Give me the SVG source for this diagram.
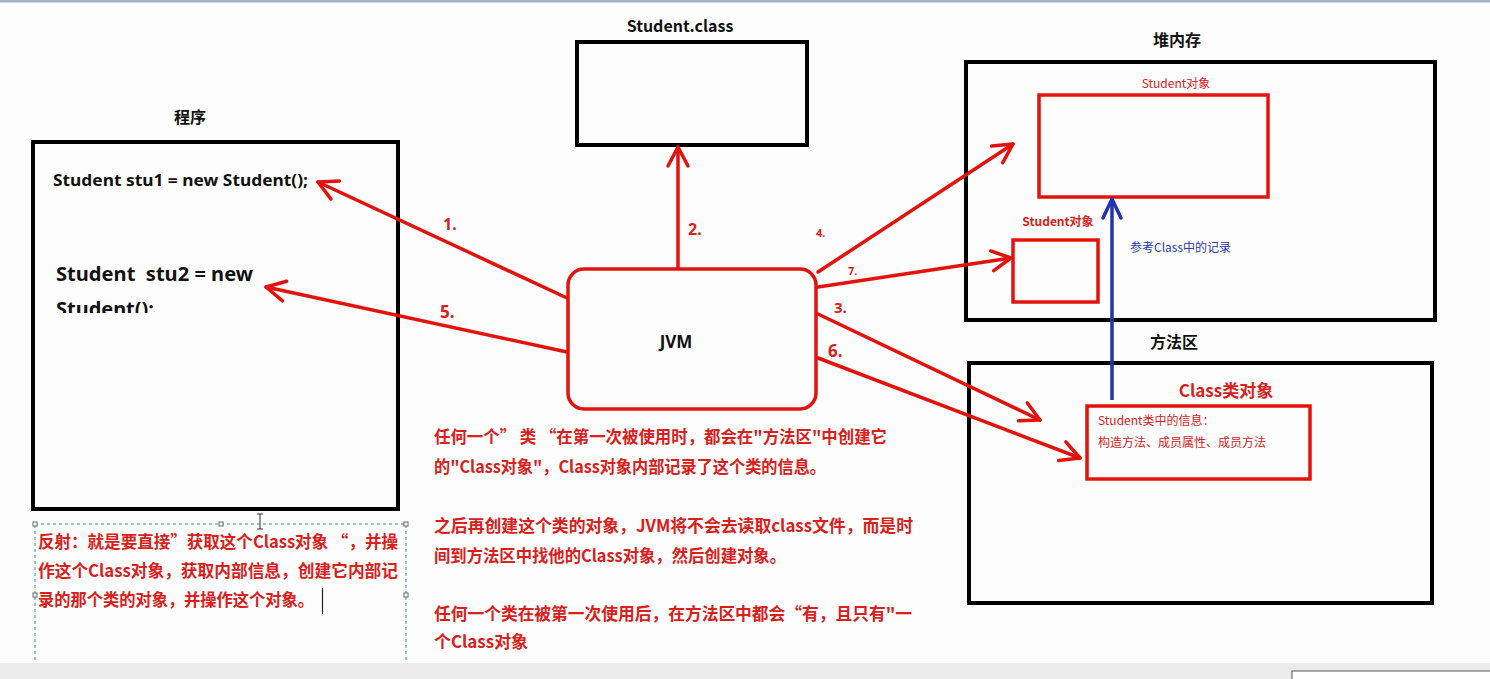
<svg xmlns="http://www.w3.org/2000/svg" width="1490" height="679" viewBox="0 0 1490 679">
<style>
.bk{fill:none;stroke:#000;stroke-width:4}
.rb{fill:none;stroke:#e3130b;stroke-width:3.5}
.ln{fill:none;stroke:#e3130b;stroke-width:3.5;stroke-linecap:round}
.title{font-family:"Noto Sans CJK SC","Noto Sans",sans-serif;font-weight:bold;font-size:16px;fill:#111;text-anchor:middle}
.code{font-family:"Noto Sans","Noto Sans CJK SC",sans-serif;font-weight:bold;fill:#111}
.rt{font-family:"Noto Sans CJK SC",sans-serif;font-weight:bold;font-size:17px;fill:#d9201a}
.num{font-family:"Noto Sans","Noto Sans CJK SC",sans-serif;font-weight:bold;fill:#d9201a}
.sm{font-family:"Noto Sans CJK SC",sans-serif;font-size:12px;fill:#d9201a}
</style>
<defs>
<marker id="ah" markerUnits="userSpaceOnUse" markerWidth="30" markerHeight="30" refX="22" refY="12" orient="auto" viewBox="0 0 30 24">
<path d="M3,2 L22,12 L3,22" fill="none" stroke="#e3130b" stroke-width="3.5" stroke-linecap="round" stroke-linejoin="round"/>
</marker>
<marker id="ahb" markerUnits="userSpaceOnUse" markerWidth="30" markerHeight="30" refX="22" refY="12" orient="auto" viewBox="0 0 30 24">
<path d="M3,3 L22,12 L3,21" fill="none" stroke="#2233b0" stroke-width="3.5" stroke-linecap="round" stroke-linejoin="round"/>
</marker>
<clipPath id="clipS"><rect x="40" y="290" width="300" height="23"/></clipPath>
</defs>
<rect x="0" y="0" width="1490" height="679" fill="#fdfdfd"/>
<rect x="0" y="0" width="1490" height="2.5" fill="#a3afc4"/>

<g id="program">
<text class="title" x="190" y="123">程序</text>
<rect class="bk" x="33" y="142" width="365" height="367"/>
<text class="code" x="53" y="186" font-size="16" textLength="255" lengthAdjust="spacingAndGlyphs">Student stu1 = new Student();</text>
<text class="code" x="56" y="281" font-size="19" textLength="197" lengthAdjust="spacingAndGlyphs" xml:space="preserve">Student  stu2 = new</text>
<text class="code" x="56" y="316" font-size="19" clip-path="url(#clipS)" textLength="98" lengthAdjust="spacingAndGlyphs">Student();</text>
</g>

<g id="studentclass">
<text class="title" x="680" y="32">Student.class</text>
<rect class="bk" x="577" y="42" width="230" height="103"/>
</g>

<g id="heap">
<text class="title" x="1177" y="46">堆内存</text>
<rect class="bk" x="966" y="62" width="469" height="258"/>
<text class="sm" x="1176" y="88" text-anchor="middle">Student对象</text>
<rect class="rb" x="1039" y="95" width="229" height="102"/>
<text class="sm" x="1058" y="226" text-anchor="middle" font-weight="bold">Student对象</text>
<rect class="rb" x="1013" y="240" width="85" height="62"/>
<text x="1130" y="252" font-family="Noto Sans CJK SC,sans-serif" font-size="12" fill="#2a3aa8">参考Class中的记录</text>
</g>

<g id="methodarea">
<text class="title" x="1174" y="348">方法区</text>
<rect class="bk" x="969" y="363" width="463" height="240"/>
<text x="1226" y="397" text-anchor="middle" font-family="Noto Sans CJK SC,sans-serif" font-weight="bold" font-size="17" fill="#d9201a">Class类对象</text>
<rect class="rb" x="1087" y="406" width="223" height="73"/>
<text class="sm" x="1098" y="425">Student类中的信息：</text>
<text class="sm" x="1098" y="447">构造方法、成员属性、成员方法</text>
</g>

<g id="jvm">
<rect class="rb" x="568" y="269" width="248" height="140" rx="16" ry="16" fill="#fff"/>
<text x="676" y="348" text-anchor="middle" font-family="Noto Sans,sans-serif" font-weight="bold" font-size="17" fill="#111">JVM</text>
</g>

<g id="connectors">
<line class="ln" x1="567" y1="298" x2="318" y2="182" marker-end="url(#ah)"/>
<line class="ln" x1="567" y1="352" x2="266" y2="287" marker-end="url(#ah)"/>
<line class="ln" x1="678" y1="268" x2="678" y2="147" marker-end="url(#ah)"/>
<line class="ln" x1="818" y1="272" x2="1013" y2="144" marker-end="url(#ah)"/>
<line class="ln" x1="818" y1="287" x2="1011" y2="258" marker-end="url(#ah)"/>
<line class="ln" x1="818" y1="314" x2="1040" y2="420" marker-end="url(#ah)"/>
<line class="ln" x1="818" y1="358" x2="1080" y2="458" marker-end="url(#ah)"/>
<line x1="1112" y1="400" x2="1112" y2="199" stroke="#2233b0" stroke-width="3.5" marker-end="url(#ahb)"/>
<text class="num" x="443" y="230" font-size="16">1.</text>
<text class="num" x="688" y="235" font-size="16">2.</text>
<text class="num" x="834" y="313" font-size="15">3.</text>
<text class="num" x="816" y="237" font-size="11">4.</text>
<text class="num" x="440" y="318" font-size="17">5.</text>
<text class="num" x="828" y="357" font-size="17">6.</text>
<text class="num" x="848" y="275" font-size="11">7.</text>
</g>

<g id="notes">
<text class="rt" x="434" y="443" textLength="453" lengthAdjust="spacingAndGlyphs">任何一个” 类 “在第一次被使用时，都会在"方法区"中创建它</text>
<text class="rt" x="434" y="473" textLength="392" lengthAdjust="spacingAndGlyphs">的"Class对象"，Class对象内部记录了这个类的信息。</text>
<text class="rt" x="434" y="532" textLength="479" lengthAdjust="spacingAndGlyphs">之后再创建这个类的对象，JVM将不会去读取class文件，而是时</text>
<text class="rt" x="434" y="562" textLength="352" lengthAdjust="spacingAndGlyphs">间到方法区中找他的Class对象，然后创建对象。</text>
<text class="rt" x="434" y="620" textLength="478" lengthAdjust="spacingAndGlyphs">任何一个类在被第一次使用后，在方法区中都会“有，且只有"一</text>
<text class="rt" x="434" y="648" textLength="94" lengthAdjust="spacingAndGlyphs">个Class对象</text>
</g>

<g id="reflection">
<rect x="35" y="524" width="371" height="150" fill="none" stroke="#3a88c8" stroke-width="1" stroke-dasharray="3,3"/>
<g fill="#fff" stroke="#666" stroke-width="1">
<rect x="33" y="522" width="4" height="4"/>
<rect x="219" y="522" width="4" height="4"/>
<rect x="404" y="522" width="4" height="4"/>
<rect x="33" y="593" width="4" height="4"/>
<rect x="404" y="593" width="4" height="4"/>
</g>
<text class="rt" x="38" y="548" font-size="16" textLength="360" lengthAdjust="spacingAndGlyphs">反射：就是要直接”获取这个Class对象 “，并操</text>
<text class="rt" x="38" y="577" font-size="16" textLength="360" lengthAdjust="spacingAndGlyphs">作这个Class对象，获取内部信息，创建它内部记</text>
<text class="rt" x="38" y="606" font-size="16" textLength="276" lengthAdjust="spacingAndGlyphs">录的那个类的对象，并操作这个对象。</text>
<line x1="322.5" y1="588" x2="322.5" y2="614" stroke="#222" stroke-width="1.2"/>
<path d="M257,514 H263 M260,514 V529 M257,529 H263" fill="none" stroke="#333" stroke-width="1"/>
</g>

<rect x="0" y="663" width="1490" height="16" fill="#ebebeb"/>
<rect x="1292" y="671" width="200" height="12" fill="#fff" stroke="#555" stroke-width="1"/>
</svg>
